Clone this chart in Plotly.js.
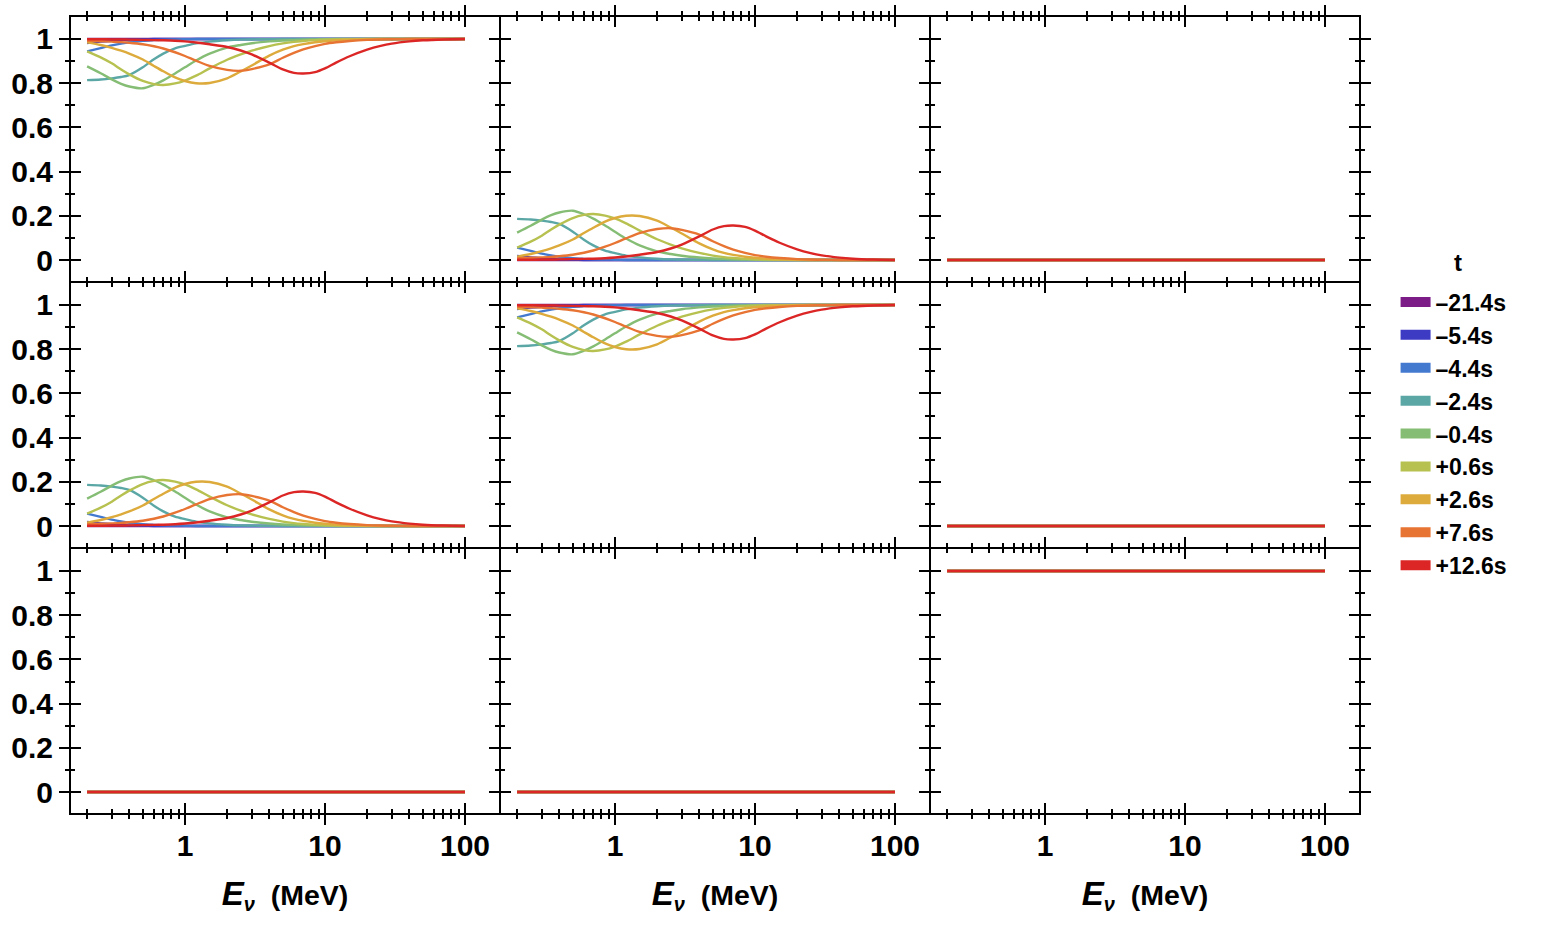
<!DOCTYPE html>
<html><head><meta charset="utf-8">
<script src="https://cdn.plot.ly/plotly-3.0.1.min.js"></script>
<style>html,body{margin:0;padding:0;background:#fff}</style>
</head><body>
<div id="chart" style="width:1542px;height:926px"></div>
<script>
// ---------- data ----------
const energies = [0.2, 0.25, 0.3, 0.35, 0.4, 0.5, 0.6, 0.7, 0.85, 1, 1.2, 1.5, 2, 2.5, 3, 4, 5, 6, 7, 8.5, 10, 12, 15, 20, 25, 30, 40, 50, 70, 100];

const timeLabels = ['\u201321.4s', '\u20135.4s', '\u20134.4s', '\u20132.4s', '\u20130.4s', '+0.6s', '+2.6s', '+7.6s', '+12.6s'];
const seriesColors = ['#7b1c87', '#3d3ac4', '#4479d0', '#5ba7a6', '#85bd75', '#b7c150', '#ddab3c', '#e87433', '#dc2626'];
const legendTitle = 't';

// survival-like panels (dips below 1)
const surv_m21_4 = [1,1,1,1,1,1,1,1,1,1,1,1,1,1,1,1,1,1,1,1,1,1,1,1,1,1,1,1,1,1];
const surv_m5_4  = [0.982,0.988,0.992,0.995,0.997,0.999,1,1,1,1,1,1,1,1,1,1,1,1,1,1,1,1,1,1,1,1,1,1,1,1];
const surv_m4_4  = [0.944,0.959,0.971,0.979,0.985,0.992,0.995,0.997,0.998,0.999,1,1,1,1,1,1,1,1,1,1,1,1,1,1,1,1,1,1,1,1];
const surv_m2_4  = [0.814,0.817,0.822,0.828,0.837,0.872,0.908,0.934,0.958,0.969,0.98,0.988,0.994,0.997,0.998,0.999,1,1,1,1,1,1,1,1,1,1,1,1,1,1];
const surv_m0_4  = [0.876,0.845,0.817,0.797,0.785,0.777,0.793,0.813,0.844,0.872,0.903,0.934,0.961,0.973,0.981,0.989,0.993,0.995,0.997,0.998,0.999,1,1,1,1,1,1,1,1,1];
const surv_p0_6  = [0.944,0.917,0.89,0.862,0.84,0.81,0.796,0.792,0.799,0.812,0.834,0.867,0.906,0.93,0.947,0.968,0.98,0.987,0.991,0.995,0.997,0.998,0.999,1,1,1,1,1,1,1];
const surv_p2_6  = [0.985,0.973,0.96,0.947,0.934,0.907,0.878,0.854,0.826,0.81,0.8,0.801,0.822,0.853,0.88,0.925,0.952,0.968,0.977,0.985,0.99,0.994,0.997,0.999,1,1,1,1,1,1];
const surv_p7_6  = [0.992,0.99,0.988,0.986,0.983,0.976,0.967,0.957,0.94,0.923,0.902,0.878,0.86,0.856,0.864,0.885,0.915,0.937,0.953,0.968,0.978,0.985,0.991,0.996,0.998,0.999,1,1,1,1];
const surv_p12_6 = [0.999,0.999,0.998,0.998,0.997,0.996,0.995,0.994,0.992,0.989,0.984,0.976,0.964,0.948,0.93,0.893,0.862,0.847,0.844,0.85,0.867,0.893,0.922,0.952,0.969,0.979,0.989,0.994,0.998,1];

// conversion-like panels (bumps above 0)
const conv_m21_4 = [0,0,0,0,0,0,0,0,0,0,0,0,0,0,0,0,0,0,0,0,0,0,0,0,0,0,0,0,0,0];
const conv_m5_4  = [0.018,0.012,0.008,0.005,0.003,0.001,0,0,0,0,0,0,0,0,0,0,0,0,0,0,0,0,0,0,0,0,0,0,0,0];
const conv_m4_4  = [0.056,0.041,0.029,0.021,0.015,0.008,0.005,0.003,0.002,0.001,0,0,0,0,0,0,0,0,0,0,0,0,0,0,0,0,0,0,0,0];
const conv_m2_4  = [0.186,0.183,0.178,0.172,0.163,0.128,0.092,0.066,0.042,0.031,0.02,0.012,0.006,0.003,0.002,0.001,0,0,0,0,0,0,0,0,0,0,0,0,0,0];
const conv_m0_4  = [0.124,0.155,0.183,0.203,0.215,0.223,0.207,0.187,0.156,0.128,0.097,0.066,0.039,0.027,0.019,0.011,0.007,0.005,0.003,0.002,0.001,0,0,0,0,0,0,0,0,0];
const conv_p0_6  = [0.056,0.083,0.11,0.138,0.16,0.19,0.204,0.208,0.201,0.188,0.166,0.133,0.094,0.07,0.053,0.032,0.02,0.013,0.009,0.005,0.003,0.002,0.001,0,0,0,0,0,0,0];
const conv_p2_6  = [0.015,0.027,0.04,0.053,0.066,0.093,0.122,0.146,0.174,0.19,0.2,0.199,0.178,0.147,0.12,0.075,0.048,0.032,0.023,0.015,0.01,0.006,0.003,0.001,0,0,0,0,0,0];
const conv_p7_6  = [0.008,0.01,0.012,0.014,0.017,0.024,0.033,0.043,0.06,0.077,0.098,0.122,0.14,0.144,0.136,0.115,0.085,0.063,0.047,0.032,0.022,0.015,0.009,0.004,0.002,0.001,0,0,0,0];
const conv_p12_6 = [0.001,0.001,0.002,0.002,0.003,0.004,0.005,0.006,0.008,0.011,0.016,0.024,0.036,0.052,0.07,0.107,0.138,0.153,0.156,0.15,0.133,0.107,0.078,0.048,0.031,0.021,0.011,0.006,0.002,0];

// flat panels
const flatZero = [0,0,0,0,0,0,0,0,0,0,0,0,0,0,0,0,0,0,0,0,0,0,0,0,0,0,0,0,0,0];
const flatOne  = [1,1,1,1,1,1,1,1,1,1,1,1,1,1,1,1,1,1,1,1,1,1,1,1,1,1,1,1,1,1];

const xTickVals = [1, 10, 100];
const xTickText = ['1', '10', '100'];
const xMinorVals = [0.2,0.3,0.4,0.5,0.6,0.7,0.8,0.9,2,3,4,5,6,7,8,9,20,30,40,50,60,70,80,90];
const yTickVals = [0, 0.2, 0.4, 0.6, 0.8, 1];
const yTickText = ['0', '0.2', '0.4', '0.6', '0.8', '1'];
const yMinorVals = [0.1, 0.3, 0.5, 0.7, 0.9];
const xTitleText = '<i><span style="font-size:33px">E</span></i><sub><i>\u03bd</i></sub>\u00a0 (MeV)';

// ---------- assembly ----------
const survival = [surv_m21_4, surv_m5_4, surv_m4_4, surv_m2_4, surv_m0_4, surv_p0_6, surv_p2_6, surv_p7_6, surv_p12_6];
const conversion = [conv_m21_4, conv_m5_4, conv_m4_4, conv_m2_4, conv_m0_4, conv_p0_6, conv_p2_6, conv_p7_6, conv_p12_6];
const panelKinds = [['surv','conv','zero'], ['conv','surv','zero'], ['zero','zero','one']];

const FONT = 'Liberation Sans, Arial, Helvetica, sans-serif';
const xRange = [-0.814, 2.243];
const yRange = [-0.095, 1.0995];

// plot area 1288 x 796 px; 2px gaps so that neighbouring frames coincide
const PW = 1288, PH = 796, CW = 428, RH = 264, GAP = 2;
const colDom = [0, 1, 2].map(c => [(c * (CW + GAP)) / PW, (c * (CW + GAP) + CW) / PW]);
const rowDom = [0, 1, 2].map(r => [1 - (r * (RH + GAP) + RH) / PH, 1 - (r * (RH + GAP)) / PH]);

const traces = [];
const layout = {
  width: 1542, height: 926,
  margin: {l: 71, r: 183, t: 17, b: 113},
  paper_bgcolor: '#fff', plot_bgcolor: 'rgba(0,0,0,0)',
  showlegend: true,
  hovermode: false,
  font: {family: FONT, color: '#000'},
  legend: {
    x: 1.0284, xanchor: 'left', y: 0.669, yanchor: 'top',
    font: {family: FONT, size: 23, weight: 'bold', color: '#000'},
    itemwidth: 30, bgcolor: 'rgba(0,0,0,0)', borderwidth: 0
  },
  annotations: [{
    text: legendTitle, xref: 'paper', yref: 'paper', x: 1.0769, y: 0.6922,
    xanchor: 'center', yanchor: 'middle', showarrow: false,
    font: {family: FONT, size: 24, weight: 'bold', color: '#000'}
  }]
};

function axName(k, letter) { return letter + (k === 1 ? '' : k); }

for (let r = 0; r < 3; r++) {
  for (let c = 0; c < 3; c++) {
    const k = r * 3 + c + 1;
    const ko = k + 9;
    const kind = panelKinds[r][c];
    for (let s = 0; s < timeLabels.length; s++) {
      let yv;
      if (kind === 'surv') yv = survival[s];
      else if (kind === 'conv') yv = conversion[s];
      else if (kind === 'zero') yv = flatZero;
      else yv = flatOne;
      traces.push({
        type: 'scatter', mode: 'lines', x: energies, y: yv,
        xaxis: axName(k, 'x'), yaxis: axName(k, 'y'),
        line: {color: seriesColors[s], width: 2.4, shape: 'spline', smoothing: 0.8},
        showlegend: false, hoverinfo: 'skip'
      });
    }
    traces.push({type: 'scatter', mode: 'lines', x: [null], y: [null],
      xaxis: 'x' + ko, yaxis: 'y' + ko, showlegend: false, hoverinfo: 'skip'});

    const bottom = (r === 2);
    const left = (c === 0);
    layout['xaxis' + (k === 1 ? '' : k)] = {
      type: 'log', range: xRange, domain: colDom[c], anchor: axName(k, 'y'),
      showline: true, linewidth: 2, linecolor: '#000', mirror: 'ticks',
      ticks: 'outside', ticklen: 10, tickwidth: 2, tickcolor: '#000',
      tickmode: 'array', tickvals: xTickVals, ticktext: xTickText,
      showticklabels: false,
      showgrid: false, zeroline: false, fixedrange: true,
      minor: {tickmode: 'array', tickvals: xMinorVals, ticks: 'outside', ticklen: 4, tickwidth: 2, tickcolor: '#000', showgrid: false}
    };
    layout['yaxis' + (k === 1 ? '' : k)] = {
      range: yRange, domain: rowDom[r], anchor: axName(k, 'x'),
      showline: true, linewidth: 2, linecolor: '#000', mirror: 'ticks',
      ticks: 'outside', ticklen: 10, tickwidth: 2, tickcolor: '#000',
      tickmode: 'array', tickvals: yTickVals, ticktext: yTickText,
      showticklabels: left,
      tickfont: {family: FONT, size: 30, weight: 'bold', color: '#000'},
      showgrid: false, zeroline: false, fixedrange: true,
      minor: {tickmode: 'array', tickvals: yMinorVals, ticks: 'outside', ticklen: 4, tickwidth: 2, tickcolor: '#000', showgrid: false}
    };
    // overlay axes carrying the inward half of each tick (and the x labels)
    const ox = {
      type: 'log', range: xRange, overlaying: axName(k, 'x'), anchor: 'y' + ko,
      showline: false, mirror: 'ticks',
      ticks: 'inside', ticklen: 10, tickwidth: 2, tickcolor: '#000',
      tickmode: 'array', tickvals: xTickVals, ticktext: xTickText,
      showticklabels: bottom, ticklabelstandoff: 12,
      tickfont: {family: FONT, size: 30, weight: 'bold', color: '#000'},
      showgrid: false, zeroline: false, fixedrange: true,
      minor: {tickmode: 'array', tickvals: xMinorVals, ticks: 'inside', ticklen: 4, tickwidth: 2, tickcolor: '#000', showgrid: false}
    };
    if (bottom) ox.title = {text: xTitleText, font: {family: FONT, size: 28.5, weight: 'bold', color: '#000'}, standoff: 24};
    layout['xaxis' + ko] = ox;
    layout['yaxis' + ko] = {
      range: yRange, overlaying: axName(k, 'y'), anchor: 'x' + ko,
      showline: false, mirror: 'ticks',
      ticks: 'inside', ticklen: 10, tickwidth: 2, tickcolor: '#000',
      tickmode: 'array', tickvals: yTickVals, showticklabels: false,
      showgrid: false, zeroline: false, fixedrange: true,
      minor: {tickmode: 'array', tickvals: yMinorVals, ticks: 'inside', ticklen: 4, tickwidth: 2, tickcolor: '#000', showgrid: false}
    };
  }
}

// legend entries (colour keys)
for (let s = 0; s < timeLabels.length; s++) {
  traces.push({
    type: 'scatter', mode: 'lines', x: [null], y: [null],
    xaxis: 'x', yaxis: 'y', name: timeLabels[s],
    line: {color: seriesColors[s], width: 10},
    showlegend: true, hoverinfo: 'skip'
  });
}

Plotly.newPlot('chart', traces, layout, {staticPlot: true, displayModeBar: false});
</script>
</body></html>
